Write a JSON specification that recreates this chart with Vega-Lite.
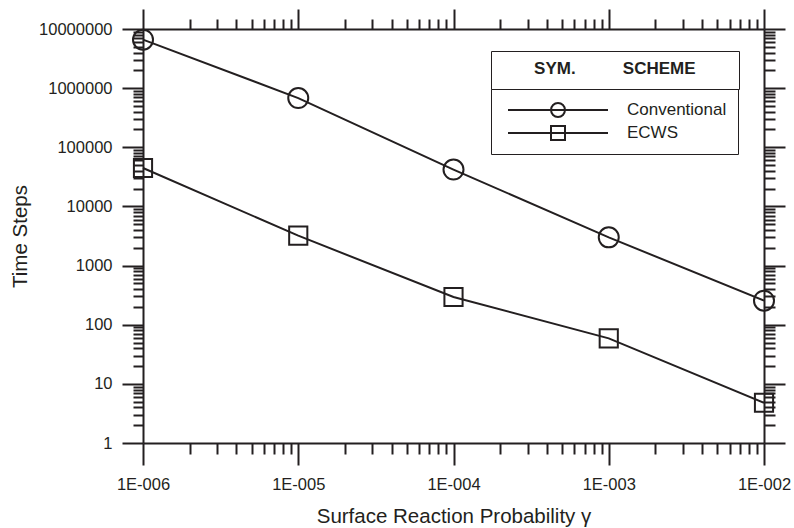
{
  "$schema": "https://vega.github.io/schema/vega-lite/v6.json",
  "width": 621,
  "height": 414,
  "autosize": {"type": "none"},
  "padding": {"left": 143, "top": 29, "right": 30, "bottom": 85},
  "background": "white",
  "config": {
    "view": {"stroke": null},
    "axis": {
      "grid": false,
      "tickColor": "#231f20",
      "tickWidth": 2,
      "domainColor": "#231f20",
      "domainWidth": 2,
      "labelFont": "Liberation Sans",
      "labelFontSize": 16.5,
      "labelColor": "#231f20",
      "titleFont": "Liberation Sans",
      "titleFontSize": 20.5,
      "titleFontWeight": "normal",
      "titleColor": "#231f20",
      "labelOverlap": false,
      "labelFlush": false
    }
  },
  "data": {
    "values": [
      {"gamma": 0.000001, "steps": 6600000, "scheme": "Conventional"},
      {"gamma": 0.00001, "steps": 680000, "scheme": "Conventional"},
      {"gamma": 0.0001, "steps": 42000, "scheme": "Conventional"},
      {"gamma": 0.001, "steps": 3000, "scheme": "Conventional"},
      {"gamma": 0.01, "steps": 255, "scheme": "Conventional"},
      {"gamma": 0.000001, "steps": 44700, "scheme": "ECWS"},
      {"gamma": 0.00001, "steps": 3200, "scheme": "ECWS"},
      {"gamma": 0.0001, "steps": 294, "scheme": "ECWS"},
      {"gamma": 0.001, "steps": 58.7, "scheme": "ECWS"},
      {"gamma": 0.01, "steps": 4.8, "scheme": "ECWS"}
    ]
  },
  "resolve": {"axis": {"x": "independent", "y": "independent"}},
  "layer": [
    {
      "mark": {"type": "line", "color": "#231f20", "strokeWidth": 2},
      "encoding": {
        "x": {
          "field": "gamma", "type": "quantitative",
          "scale": {"type": "log", "domain": [0.000001, 0.01], "nice": false},
          "axis": {
            "orient": "bottom",
            "values": [0.000001, 0.00001, 0.0001, 0.001, 0.01],
            "tickSize": 22,
            "labelPadding": 11,
            "labelExpr": "'1E-00' + round(-log(datum.value)/LN10)",
            "title": "Surface Reaction Probability γ",
            "titlePadding": 14
          }
        },
        "y": {
          "field": "steps", "type": "quantitative",
          "scale": {"type": "log", "domain": [1, 10000000], "nice": false},
          "axis": {
            "orient": "left",
            "values": [1, 10, 100, 1000, 10000, 100000, 1000000, 10000000],
            "tickSize": 21,
            "labelPadding": 10,
            "format": "d",
            "title": "Time Steps",
            "titlePadding": 8
          }
        },
        "detail": {"field": "scheme"}
      }
    },
    {
      "transform": [{"filter": "datum.scheme === 'Conventional'"}],
      "mark": {"type": "point", "shape": "circle", "size": 400, "filled": false, "color": "#231f20", "strokeWidth": 2, "opacity": 1},
      "encoding": {
        "x": {
          "field": "gamma", "type": "quantitative",
          "axis": {"orient": "top", "values": [0.000001, 0.00001, 0.0001, 0.001, 0.01], "tickSize": 20, "labels": false, "title": null}
        },
        "y": {
          "field": "steps", "type": "quantitative",
          "axis": {"orient": "right", "values": [1, 10, 100, 1000, 10000, 100000, 1000000, 10000000], "tickSize": 21, "labels": false, "title": null}
        }
      }
    },
    {
      "transform": [{"filter": "datum.scheme === 'ECWS'"}],
      "mark": {"type": "point", "shape": "square", "size": 330, "filled": false, "color": "#231f20", "strokeWidth": 2, "opacity": 1},
      "encoding": {
        "x": {
          "field": "gamma", "type": "quantitative",
          "axis": {"orient": "bottom", "domain": false, "labels": false, "title": null, "tickSize": 11,
            "values": [0.000002, 0.000003, 0.000004, 0.000005, 0.000006, 0.000007, 0.000008, 0.000009,
                       0.00002, 0.00003, 0.00004, 0.00005, 0.00006, 0.00007, 0.00008, 0.00009,
                       0.0002, 0.0003, 0.0004, 0.0005, 0.0006, 0.0007, 0.0008, 0.0009,
                       0.002, 0.003, 0.004, 0.005, 0.006, 0.007, 0.008, 0.009]}
        },
        "y": {
          "field": "steps", "type": "quantitative",
          "axis": {"orient": "left", "domain": false, "labels": false, "title": null, "tickSize": 10,
            "values": [2, 3, 4, 5, 6, 7, 8, 9, 20, 30, 40, 50, 60, 70, 80, 90,
                       200, 300, 400, 500, 600, 700, 800, 900, 2000, 3000, 4000, 5000, 6000, 7000, 8000, 9000,
                       20000, 30000, 40000, 50000, 60000, 70000, 80000, 90000,
                       200000, 300000, 400000, 500000, 600000, 700000, 800000, 900000,
                       2000000, 3000000, 4000000, 5000000, 6000000, 7000000, 8000000, 9000000]}
        }
      }
    },
    {
      "mark": {"type": "point", "opacity": 0, "filled": false},
      "encoding": {
        "x": {
          "field": "gamma", "type": "quantitative",
          "axis": {"orient": "top", "domain": false, "labels": false, "title": null, "tickSize": 10,
            "values": [0.000002, 0.000003, 0.000004, 0.000005, 0.000006, 0.000007, 0.000008, 0.000009,
                       0.00002, 0.00003, 0.00004, 0.00005, 0.00006, 0.00007, 0.00008, 0.00009,
                       0.0002, 0.0003, 0.0004, 0.0005, 0.0006, 0.0007, 0.0008, 0.0009,
                       0.002, 0.003, 0.004, 0.005, 0.006, 0.007, 0.008, 0.009]}
        },
        "y": {
          "field": "steps", "type": "quantitative",
          "axis": {"orient": "right", "domain": false, "labels": false, "title": null, "tickSize": 11,
            "values": [2, 3, 4, 5, 6, 7, 8, 9, 20, 30, 40, 50, 60, 70, 80, 90,
                       200, 300, 400, 500, 600, 700, 800, 900, 2000, 3000, 4000, 5000, 6000, 7000, 8000, 9000,
                       20000, 30000, 40000, 50000, 60000, 70000, 80000, 90000,
                       200000, 300000, 400000, 500000, 600000, 700000, 800000, 900000,
                       2000000, 3000000, 4000000, 5000000, 6000000, 7000000, 8000000, 9000000]}
        },
        "shape": {
          "field": "scheme", "type": "nominal",
          "scale": {
            "domain": ["Conventional", "ECWS"],
            "range": [
              "M-0.909,0H0.909M0.127,0A0.127,0.127,0,1,1,-0.127,0A0.127,0.127,0,1,1,0.127,0",
              "M-0.909,0H0.909M-0.127,-0.127H0.127V0.127H-0.127Z"
            ]
          },
          "legend": {
            "orient": "none", "legendX": 348, "legendY": 60, "title": null,
            "symbolSize": 12100, "symbolStrokeColor": "#231f20", "symbolFillColor": "transparent",
            "symbolStrokeWidth": 2, "symbolOpacity": 1,
            "labelFont": "Liberation Sans", "labelFontSize": 17, "labelColor": "#231f20",
            "labelOffset": 13, "labelLimit": 0,
            "clipHeight": 20, "rowPadding": 3, "padding": 11,
            "strokeColor": "#231f20", "fillColor": "white",
            "encode": {"legend": {"update": {"strokeWidth": {"value": 2}}}}
          }
        }
      }
    },
    {
      "mark": {"type": "point", "opacity": 0},
      "encoding": {
        "color": {
          "datum": "hdr", "type": "nominal",
          "scale": {"range": ["transparent"]},
          "legend": {
            "orient": "none", "legendX": 348, "legendY": 22,
            "title": "\u200b\u00a0\u00a0\u00a0\u00a0\u00a0\u00a0\u00a0SYM.\u00a0\u00a0\u00a0\u00a0\u00a0\u00a0\u00a0\u00a0\u00a0\u00a0SCHEME\u00a0\u00a0\u00a0\u00a0\u00a0\u00a0\u00a0\u200b",
            "titleFont": "Liberation Sans", "titleFontSize": 17, "titleFontWeight": "bold",
            "titleColor": "#231f20", "titlePadding": 0, "titleLimit": 1000,
            "symbolType": "stroke", "symbolSize": 1, "symbolOpacity": 0,
            "labelExpr": "''", "labelFontSize": 1, "clipHeight": 1,
            "padding": 10, "strokeColor": "#231f20", "fillColor": "white",
            "encode": {"legend": {"update": {"strokeWidth": {"value": 2}}}}
          }
        }
      }
    }
  ]
}
